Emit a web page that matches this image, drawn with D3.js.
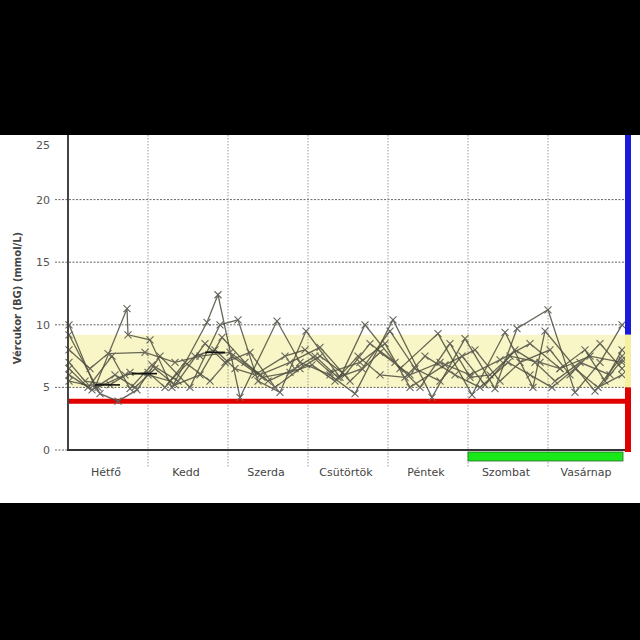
<!DOCTYPE html>
<html><head><meta charset="utf-8">
<script src="https://cdn.jsdelivr.net/npm/d3@7"></script>
<style>html,body{margin:0;padding:0;background:#000;}svg{display:block;}</style>
</head><body>
<svg id="c" width="640" height="640"></svg>
<script>
const days = ["Hétfő","Kedd","Szerda","Csütörtök","Péntek","Szombat","Vasárnap"];
const yTicks = [0,5,10,15,20,25];
const targetLow = 5, targetHigh = 9.2, hypoLimit = 3.9;
const yTitle = "Vércukor (BG) (mmol/L)";
// hours since Monday 00:00, and BG values (mmol/L)
const s1Hours = [0.3,8.1,17.7,18.0,24.6,31.2,41.7,45,51.6,62.7,69.6,78.6,86.1,97.5,109.2,119.1,128.1,134.7,144,152.1,159.6,166.2];
const s1Vals  = [10.0,5.0,11.3,9.2,8.8,5.0,10.2,12.4,4.2,10.3,7.0,6.0,4.5,10.4,4.2,8.9,4.9,9.7,11.2,4.6,7.0,10.0];
const s2Hours = [0.3,9.6,15,20.7,27.6,36.6,45.6,51,57,63.6,71.4,81.6,89.1,99.6,111,121.2,131.1,139.5,143.1,158.1,166.2];
const s2Vals  = [9.2,4.5,3.9,4.8,7.5,5.0,10.0,10.4,5.5,4.6,9.5,5.8,10.0,6.5,9.3,4.4,9.4,5.0,9.5,4.7,7.5];
const s3Hours = [0.3,6.6,12,23.1,32.1,39.6,48.6,57.6,66.6,75.6,84.6,93.6,102.6,111.6,120.6,129.6,138.6,147.6,156.6,166.2];
const s3Vals  = [8.0,6.5,7.7,7.8,7.0,7.5,7.8,6.0,7.0,8.2,5.5,7.8,6.0,7.0,6.0,7.2,8.5,6.5,7.5,7.0];
const s4Hours = [0.3,5.1,12.6,18.6,24,30.6,38.1,44.1,50.1,56.1,65.1,71.1,78.6,87.6,95.1,102.6,113.1,122.1,129.6,135.6,144.6,150.6,159.6,166.2];
const s4Vals  = [7.0,5.5,5.2,6.2,6.0,5.5,7.5,8.0,6.5,6.0,7.5,8.0,6.2,7.0,8.5,5.0,6.8,8.0,5.5,7.0,8.0,6.0,8.5,6.5];
const s5Hours = [0.3,6,13.2,18.6,25.2,33,41.1,47.1,54.6,62.1,69.6,75.6,83.1,90.6,98.1,105.6,114.6,120.6,126.6,132.6,141.6,147.6,155.1,161.1,166.2];
const s5Vals  = [6.5,5.0,7.5,4.9,6.8,5.5,8.5,7.0,7.8,5.0,6.5,7.5,6.0,8.5,7.0,5.0,8.5,5.8,6.0,7.5,7.0,6.5,8.0,5.5,8.0];
const s6Hours = [0.3,7.2,14.1,20.1,26.1,32.1,39.6,46.2,53.1,60,68.1,74.1,81,88.2,96.6,104.1,111.6,118.2,125.1,134.1,140.1,146.1,153.6,162.6,166.2];
const s6Vals  = [6.0,4.8,6.0,5.0,6.5,5.2,6.0,9.0,7.0,5.5,6.5,7.5,5.8,6.5,9.5,6.5,5.5,7.5,5.2,8.0,7.0,5.5,7.0,6.0,7.2];
const s7Hours = [0.3,9,17.1,24,29.1,35.1,42.6,49.2,58.2,66.6,73.2,80.1,87,93.6,101.1,107.1,116.1,123.6,132,138.6,145.2,152.1,159,166.2];
const s7Vals  = [5.5,5.0,6.0,6.2,5.0,7.0,5.5,7.5,5.8,6.2,6.8,5.5,7.5,6.0,5.8,7.5,6.0,5.0,7.0,6.0,5.0,6.5,5.0,6.0];
// dark median segments
const medStart = [8.1,19.2,41.1];
const medEnd   = [15.6,26.7,47.1];
const medVals  = [5.2,6.1,7.8];
// weekend days index range
const weekendFrom = 5, weekendTo = 7;

const series = [[s1Hours,s1Vals],[s2Hours,s2Vals],[s3Hours,s3Vals],[s4Hours,s4Vals],[s5Hours,s5Vals],[s6Hours,s6Vals],[s7Hours,s7Vals]];

const svg = d3.select("#c");
svg.append("rect").attr("x",0).attr("y",135).attr("width",640).attr("height",368).attr("fill","#ffffff");

const x = d3.scaleLinear().domain([0,168]).range([68,628]);
const y = d3.scaleLinear().domain([0,25]).range([450,137]);
const dayX = d => x(d*24);

// target band
svg.append("rect").attr("x",x(0)).attr("width",x(168)-x(0))
  .attr("y",y(targetHigh)).attr("height",y(targetLow)-y(targetHigh))
  .attr("fill","#f8f6c6");

// horizontal dashed gridlines
svg.append("g").selectAll("line").data(yTicks.filter(t=>t>0&&t<25)).join("line")
  .attr("x1",55).attr("x2",628).attr("y1",d=>y(d)).attr("y2",d=>y(d))
  .attr("stroke","#666").attr("stroke-width",1).attr("stroke-dasharray","2,1.5");
// y tick dashes for 0 and 25
svg.append("g").selectAll("line").data([0]).join("line")
  .attr("x1",55).attr("x2",68).attr("y1",d=>y(d)).attr("y2",d=>y(d))
  .attr("stroke","#666").attr("stroke-width",1).attr("stroke-dasharray","2,1.5");

// vertical day gridlines
svg.append("g").selectAll("line").data(d3.range(1,7)).join("line")
  .attr("x1",dayX).attr("x2",dayX).attr("y1",135).attr("y2",467)
  .attr("stroke","#9a9a9a").attr("stroke-width",1).attr("stroke-dasharray","1.5,1.5");

// hypo line
svg.append("line").attr("x1",x(0)).attr("x2",x(168)).attr("y1",y(hypoLimit)).attr("y2",y(hypoLimit))
  .attr("stroke","#e00000").attr("stroke-width",5);

// data series
const line = d3.line().x(d=>x(d[0])).y(d=>y(d[1]));
const g = svg.append("g");
series.forEach(([hs,vs])=>{
  const pts = hs.map((h,i)=>[h,vs[i]]);
  g.append("path").attr("d",line(pts)).attr("fill","none")
    .attr("stroke","#4d4e40").attr("stroke-width",1.3).attr("opacity",0.85);
  g.selectAll(null).data(pts).join("path")
    .attr("d",d=>{const cx=x(d[0]),cy=y(d[1]),r=3.5;return `M${cx-r},${cy-r}L${cx+r},${cy+r}M${cx-r},${cy+r}L${cx+r},${cy-r}`;})
    .attr("stroke","#66665c").attr("stroke-width",1.1).attr("fill","none");
});
// dark median segments
svg.append("g").selectAll("line").data(medVals).join("line")
  .attr("x1",(d,i)=>x(medStart[i])).attr("x2",(d,i)=>x(medEnd[i]))
  .attr("y1",d=>y(d)).attr("y2",d=>y(d)).attr("stroke","#111").attr("stroke-width",1.6);

// axes lines
svg.append("line").attr("x1",68).attr("x2",68).attr("y1",135).attr("y2",451)
  .attr("stroke","#444").attr("stroke-width",2);
svg.append("line").attr("x1",67).attr("x2",628).attr("y1",450).attr("y2",450)
  .attr("stroke","#333").attr("stroke-width",2);

// weekend green bar
svg.append("rect").attr("x",dayX(weekendFrom)).attr("width",dayX(weekendTo)-dayX(weekendFrom)-5)
  .attr("y",452).attr("height",9).attr("fill","#18e818").attr("stroke","#2a6a2a").attr("stroke-width",0.8);

// right colour bar
const bx = 628;
svg.append("line").attr("x1",bx).attr("x2",bx).attr("y1",135).attr("y2",y(targetHigh)).attr("stroke","#1a1adf").attr("stroke-width",6);
svg.append("line").attr("x1",bx).attr("x2",bx).attr("y1",y(targetHigh)).attr("y2",y(targetLow)).attr("stroke","#f4f0a0").attr("stroke-width",6);
svg.append("line").attr("x1",bx).attr("x2",bx).attr("y1",y(targetLow)).attr("y2",452).attr("stroke","#e00000").attr("stroke-width",6);

// y tick labels
svg.append("g").selectAll("text").data(yTicks).join("text")
  .attr("x",50).attr("y",d=>Math.max(y(d)+4,149)).attr("text-anchor","end")
  .attr("font-family","DejaVu Sans, sans-serif").attr("font-size",11).attr("fill","#555")
  .text(d=>d);

// day labels
svg.append("g").selectAll("text").data(days).join("text")
  .attr("x",(d,i)=>dayX(i+0.5)-2).attr("y",476).attr("text-anchor","middle")
  .attr("font-family","DejaVu Sans, sans-serif").attr("font-size",11).attr("fill","#444")
  .text(d=>d);

// y title
svg.append("text").attr("transform","translate(21,298) rotate(-90)").attr("text-anchor","middle")
  .attr("font-family","DejaVu Sans, sans-serif").attr("font-size",10).attr("font-weight","bold").attr("fill","#444")
  .text(yTitle);
</script>
</body></html>
